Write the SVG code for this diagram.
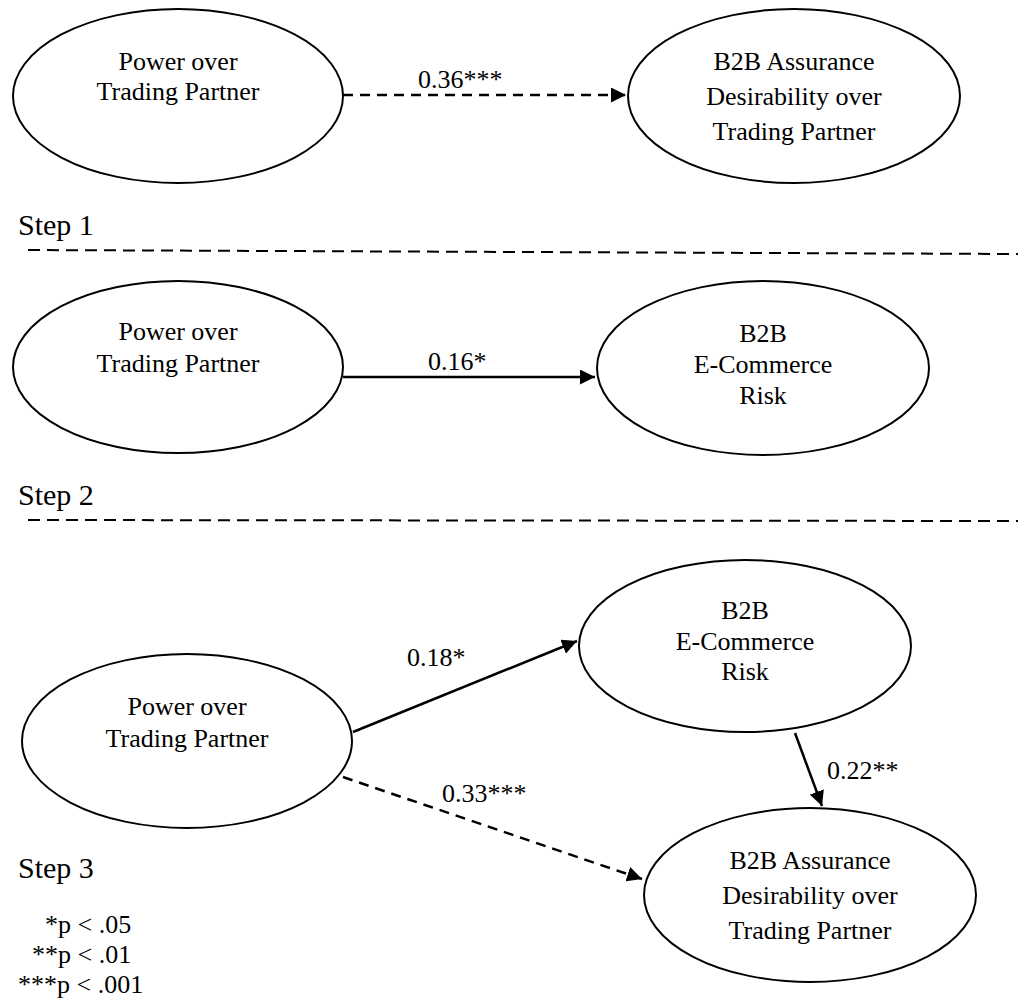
<svg xmlns="http://www.w3.org/2000/svg" width="1018" height="1000" viewBox="0 0 1018 1000" font-family="'Liberation Serif', 'DejaVu Serif', serif">
<defs>
<style>
.n ellipse{fill:#fff;stroke:#000;stroke-width:2}
text{font-family:'Liberation Serif','DejaVu Serif',serif;fill:#000}
.t{font-size:26px;text-anchor:middle}
.l{font-size:26px}
.s{font-size:30px}
.c{stroke:#000;stroke-width:2.5;fill:none}
.d{stroke-dasharray:10 7}
.sep{stroke:#000;stroke-width:2;stroke-dasharray:12 7;fill:none}
</style>
<marker id="ah" viewBox="0 0 10 10" refX="10" refY="5" markerWidth="6" markerHeight="6" markerUnits="strokeWidth" orient="auto">
<path d="M0,0 L10,5 L0,10 z" fill="#000"/>
</marker>
</defs>
<rect width="1018" height="1000" fill="#fff"/>

<g id="connectors">
<line class="c d" x1="343" y1="95" x2="626" y2="95" marker-end="url(#ah)"/>
<line class="c" x1="343" y1="377" x2="595" y2="377" marker-end="url(#ah)"/>
<line class="c" x1="353" y1="732" x2="577" y2="641" marker-end="url(#ah)"/>
<line class="c" x1="795" y1="733" x2="822" y2="806" marker-end="url(#ah)"/>
<line class="c d" x1="343" y1="777" x2="642" y2="879" marker-end="url(#ah)"/>
</g>

<g id="separators">
<line class="sep" x1="28" y1="250" x2="1018" y2="254"/>
<line class="sep" x1="28" y1="520" x2="1018" y2="521"/>
</g>

<g id="labels" font-family="'Liberation Serif', 'DejaVu Serif', serif">
<text class="l" x="418" y="88">0.36***</text>
<text class="l" x="428" y="370">0.16*</text>
<text class="l" x="407" y="666">0.18*</text>
<text class="l" x="442" y="802">0.33***</text>
<text class="l" x="827" y="779">0.22**</text>
<text class="s" x="18" y="235">Step 1</text>
<text class="s" x="18" y="505">Step 2</text>
<text class="s" x="18" y="878">Step 3</text>
<text class="l" x="45" y="933">*p &lt; .05</text>
<text class="l" x="32" y="963">**p &lt; .01</text>
<text class="l" x="18" y="993">***p &lt; .001</text>
</g>

<g id="s1-power" class="n" font-family="'Liberation Serif', 'DejaVu Serif', serif">
<ellipse cx="178" cy="96" rx="165" ry="87"/>
<text class="t" x="178" y="70">Power over</text>
<text class="t" x="178" y="100">Trading Partner</text>
</g>
<g id="s1-assurance" class="n" font-family="'Liberation Serif', 'DejaVu Serif', serif">
<ellipse cx="794" cy="96" rx="166" ry="87"/>
<text class="t" x="794" y="70">B2B Assurance</text>
<text class="t" x="794" y="105">Desirability over</text>
<text class="t" x="794" y="140">Trading Partner</text>
</g>

<g id="s2-power" class="n" font-family="'Liberation Serif', 'DejaVu Serif', serif">
<ellipse cx="178" cy="367" rx="165" ry="86"/>
<text class="t" x="178" y="340">Power over</text>
<text class="t" x="178" y="372">Trading Partner</text>
</g>
<g id="s2-risk" class="n" font-family="'Liberation Serif', 'DejaVu Serif', serif">
<ellipse cx="763" cy="368" rx="166" ry="87"/>
<text class="t" x="763" y="342">B2B</text>
<text class="t" x="763" y="373">E-Commerce</text>
<text class="t" x="763" y="404">Risk</text>
</g>

<g id="s3-power" class="n" font-family="'Liberation Serif', 'DejaVu Serif', serif">
<ellipse cx="187" cy="741" rx="165" ry="87"/>
<text class="t" x="187" y="715">Power over</text>
<text class="t" x="187" y="747">Trading Partner</text>
</g>
<g id="s3-risk" class="n" font-family="'Liberation Serif', 'DejaVu Serif', serif">
<ellipse cx="745" cy="646" rx="166" ry="86"/>
<text class="t" x="745" y="619">B2B</text>
<text class="t" x="745" y="650">E-Commerce</text>
<text class="t" x="745" y="680">Risk</text>
</g>
<g id="s3-assurance" class="n" font-family="'Liberation Serif', 'DejaVu Serif', serif">
<ellipse cx="810" cy="895" rx="166" ry="87"/>
<text class="t" x="810" y="869">B2B Assurance</text>
<text class="t" x="810" y="904">Desirability over</text>
<text class="t" x="810" y="939">Trading Partner</text>
</g>
</svg>
